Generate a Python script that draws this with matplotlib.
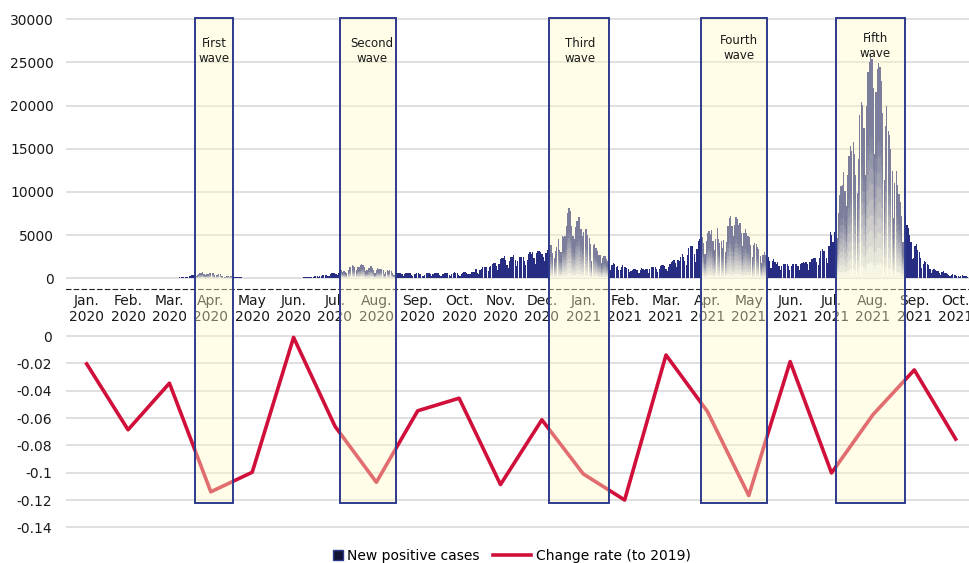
import datetime
import numpy as np
import matplotlib.pyplot as plt
import matplotlib.transforms as mtransforms
from matplotlib.patches import Rectangle
from matplotlib.lines import Line2D

# ---- data ----
months = ['Jan.\n2020', 'Feb.\n2020', 'Mar.\n2020', 'Apr.\n2020', 'May\n2020', 'Jun.\n2020',
          'Jul.\n2020', 'Aug.\n2020', 'Sep.\n2020', 'Oct.\n2020', 'Nov.\n2020', 'Dec.\n2020',
          'Jan.\n2021', 'Feb.\n2021', 'Mar.\n2021', 'Apr.\n2021', 'May\n2021', 'Jun.\n2021',
          'Jul.\n2021', 'Aug.\n2021', 'Sep.\n2021', 'Oct.\n2021']

change_rate = [-0.0204, -0.0686, -0.0345, -0.1140, -0.0997, -0.0010, -0.0660, -0.1070,
               -0.0547, -0.0455, -0.1087, -0.0613, -0.1009, -0.1200, -0.0139, -0.0552,
               -0.1167, -0.0187, -0.1002, -0.0576, -0.0248, -0.0754]

# daily new positive cases, one row per week (Mon..Sun), from 2020-01-13
cases_start = datetime.date(2020, 1, 13)
new_cases = [
    0, 0, 1, 0, 0, 0, 0,
    0, 0, 0, 1, 1, 1, 0,
    1, 2, 3, 2, 3, 4, 1,
    2, 1, 3, 1, 5, 2, 0,
    1, 2, 1, 7, 8, 4, 3,
    5, 8, 9, 12, 10, 12, 8,
    6, 10, 12, 15, 23, 17, 8,
    15, 20, 35, 28, 45, 40, 20,
    25, 40, 50, 50, 45, 55, 35,
    20, 35, 40, 40, 45, 60, 40,
    40, 65, 90, 95, 120, 200, 130,
    110, 180, 240, 230, 350, 380, 360,
    250, 400, 500, 560, 650, 714, 540,
    380, 460, 540, 580, 570, 620, 560,
    350, 380, 430, 440, 450, 310, 240,
    170, 190, 230, 280, 200, 230, 280,
    220, 170, 120, 90, 100, 90, 110,
    40, 80, 55, 60, 70, 50, 30,
    20, 30, 40, 30, 25, 20, 15,
    20, 25, 40, 60, 50, 50, 40,
    30, 45, 35, 45, 50, 45, 50,
    20, 40, 45, 40, 60, 55, 70,
    40, 40, 40, 65, 80, 40, 60,
    35, 50, 80, 90, 100, 105, 110,
    90, 120, 130, 190, 210, 220, 240,
    150, 250, 300, 350, 390, 400, 330,
    250, 300, 450, 580, 660, 590, 510,
    420, 630, 790, 980, 780, 840, 670,
    600, 950, 1250, 1300, 1530, 1400, 1330,
    970, 1250, 1350, 1480, 1600, 1580, 1360,
    790, 960, 1200, 1180, 1370, 1240, 980,
    620, 900, 1150, 1030, 1120, 1050, 900,
    520, 720, 920, 850, 900, 850, 620,
    420, 600, 680, 660, 610, 630, 440,
    270, 500, 560, 650, 560, 590, 410,
    290, 480, 540, 590, 600, 540, 490,
    310, 300, 350, 600, 560, 640, 470,
    290, 500, 600, 620, 600, 560, 410,
    300, 460, 520, 600, 600, 580, 400,
    270, 530, 570, 690, 610, 620, 410,
    310, 490, 600, 680, 720, 610, 530,
    450, 520, 700, 780, 770, 1070, 600,
    500, 920, 1080, 1250, 1330, 1330, 1330,
    800, 1250, 1450, 1650, 1740, 1720, 1440,
    950, 1690, 2200, 2400, 2400, 2590, 2170,
    1500, 1230, 1950, 2500, 2500, 2680, 2060,
    1420, 2050, 2500, 2510, 2450, 2500, 2030,
    1510, 2100, 2800, 3000, 2770, 3040, 2400,
    1660, 2980, 3200, 3200, 2990, 2850, 2490,
    2000, 2950, 3270, 3730, 3800, 3880, 2950,
    2390, 3130, 3600, 4500, 3230, 3050, 4900,
    4800, 4950, 6000, 7570, 8100, 7790, 6090,
    4880, 4540, 5880, 6600, 7130, 7040, 5760,
    4930, 5320, 5650, 5700, 5000, 4700, 3990,
    1990, 3860, 3960, 3540, 3140, 2700, 2670,
    1800, 2320, 2630, 2580, 2280, 2000, 1700,
    1000, 1560, 1710, 1610, 1350, 1370, 1000,
    1000, 1300, 1500, 1300, 1300, 1200, 1100,
    700, 800, 990, 1070, 1060, 1000, 900,
    600, 930, 1140, 1100, 1000, 1090, 1070,
    600, 1050, 1300, 1300, 1250, 1280, 1100,
    750, 1100, 1470, 1500, 1500, 1460, 1100,
    800, 1300, 1600, 1900, 2000, 2080, 1780,
    1280, 2080, 2000, 2500, 2770, 2500, 2000,
    1500, 2650, 3450, 3700, 3690, 3700, 2780,
    1880, 3440, 4300, 4560, 4530, 4800, 4090,
    2800, 4320, 5290, 5500, 5120, 5600, 4360,
    3300, 4500, 5800, 4600, 4100, 4300, 3550,
    4400, 3000, 4170, 6100, 7000, 7240, 6000,
    4900, 6200, 7100, 6900, 6200, 6400, 5200,
    3700, 5200, 5700, 5200, 4900, 4800, 3900,
    2500, 3800, 4100, 4000, 3600, 3400, 2600,
    1800, 2700, 3000, 2700, 2300, 2500, 2000,
    1200, 2000, 2200, 1900, 1700, 1900, 1400,
    930, 1400, 1700, 1700, 1600, 1600, 1400,
    900, 1400, 1700, 1700, 1600, 1600, 1400,
    1000, 1600, 1800, 1900, 1800, 1900, 1600,
    1000, 1900, 2200, 2200, 2300, 2400, 1900,
    1500, 2400, 3200, 3400, 3200, 3100, 2300,
    1800, 3700, 5400, 5000, 4200, 5400, 3700,
    4700, 7600, 9600, 10700, 10800, 12300, 10100,
    8400, 12000, 14200, 15300, 14700, 15800, 14400,
    12000, 9900, 13800, 18900, 20400, 20100, 17400,
    12000, 19900, 23900, 25100, 26000, 25400, 22000,
    14400, 21600, 24200, 24900, 24500, 22800, 19100,
    11400, 17600, 20000, 17000, 16600, 15000, 12400,
    7000, 11000, 12400, 10800, 9800, 8800, 7200,
    4200, 6000, 6700, 6200, 5800, 5000, 4200,
    2200, 2400, 3700, 4000, 3300, 3000, 2300,
    1150, 1600, 2000, 1900, 1600, 1500, 1100,
    600, 1000, 1100, 1000, 850, 800, 600,
    400, 700, 800, 600, 600, 500, 430,
    230, 400, 450, 380, 320, 300, 250,
    150, 300, 350, 290, 250, 250, 180,
]

# daily bars sit on their own category axis starting 2020-01-01
axis_start = datetime.date(2020, 1, 1)
axis_days = 676

wave_names = ['First\nwave', 'Second\nwave', 'Third\nwave', 'Fourth\nwave', 'Fifth\nwave']
wave_bounds = [(2.61, 3.54), (6.12, 7.48), (11.18, 12.63), (14.85, 16.45), (18.11, 19.78)]
wave_label_xy = [(214, 51), (372, 51), (580, 51), (739, 48), (875, 46)]  # figure pixels

navy = '#262d82'
red = '#d0103a'
grid_col = '#dadada'
box_edge = '#2e3a8c'

plt.rcParams['font.family'] = 'DejaVu Sans'

fig = plt.figure(figsize=(9.69, 5.63), dpi=100)
ax1 = fig.add_axes([0.0681, 0.4862, 0.9395, 0.4842])
ax2 = fig.add_axes([0.0681, 0.0512, 0.9395, 0.3568])

# ---- top: daily cases ----
cases = np.array(new_cases, dtype=float)
day_idx = np.array([(cases_start + datetime.timedelta(days=i) - axis_start).days
                    for i in range(len(cases))])
bar_x = -0.5 + (day_idx + 0.5) * len(months) / axis_days
bw = 0.9 * len(months) / axis_days

in_wave = np.zeros(len(bar_x), dtype=bool)
for lo, hi in wave_bounds:
    in_wave |= (bar_x >= lo) & (bar_x <= hi)

ax1.bar(bar_x[~in_wave], cases[~in_wave], width=bw, color=navy, linewidth=0, zorder=2)

# bars inside the waves fade to white at the bottom
n_seg = 14
navy_rgb = np.array([38, 45, 130]) / 255
for k in range(n_seg):
    t = min(1.0, (k + 0.5) / n_seg / 0.65)
    col = (1 - t) * np.ones(3) + t * navy_rgb
    h = cases[in_wave] / n_seg
    ax1.bar(bar_x[in_wave], h, bottom=h * k, width=bw, color=col, linewidth=0, zorder=2)

ax1.set_xlim(-0.5, len(months) - 0.5)
ax1.set_ylim(-1275, 30300)
ax1.set_yticks(range(0, 30001, 5000))
ax1.set_xticks(range(len(months)))
ax1.set_xticklabels(months, linespacing=1.15)
ax1.tick_params(axis='x', length=0, pad=3.5, labelsize=10, labelcolor='#1a1a1a')
ax1.tick_params(axis='y', length=0, pad=8.6, labelsize=10, labelcolor='#1a1a1a')
ax1.grid(axis='y', color=grid_col, linewidth=1.2)
ax1.set_axisbelow(True)
for s in ['top', 'left', 'right']:
    ax1.spines[s].set_visible(False)
ax1.spines['bottom'].set_linestyle((0, (4, 3)))
ax1.spines['bottom'].set_color('#222222')
ax1.spines['bottom'].set_linewidth(0.8)

# ---- bottom: change rate ----
ax2.plot(range(len(months)), change_rate, color=red, linewidth=2.6, zorder=3)
ax2.set_xlim(-0.5, len(months) - 0.5)
ax2.set_ylim(-0.145, 0.002)
ax2.set_yticks([0, -0.02, -0.04, -0.06, -0.08, -0.1, -0.12, -0.14])
ax2.set_yticklabels(['0', '-0.02', '-0.04', '-0.06', '-0.08', '-0.1', '-0.12', '-0.14'])
ax2.set_xticks([])
ax2.tick_params(axis='y', length=0, pad=10, labelsize=10, labelcolor='#1a1a1a')
ax2.grid(axis='y', color=grid_col, linewidth=1.2)
ax2.set_axisbelow(True)
for s in ax2.spines.values():
    s.set_visible(False)

# ---- wave boxes across both panels ----
trans = mtransforms.blended_transform_factory(ax1.transData, fig.transFigure)
y0, y1 = (563 - 503) / 563, (563 - 18) / 563
for (lo, hi), name, (px, py) in zip(wave_bounds, wave_names, wave_label_xy):
    rect = Rectangle((lo, y0), hi - lo, y1 - y0, transform=trans,
                     facecolor=(1.0, 0.98, 0.77, 0.4), edgecolor=box_edge,
                     linewidth=1.4, zorder=5, clip_on=False)
    fig.add_artist(rect)
    fig.text(px / 969, 1 - py / 563, name, ha='center', va='center', fontsize=8.5,
             color='#1a1a1a', linespacing=1.2, zorder=6)

# ---- legend ----
h1 = Line2D([], [], marker='s', linestyle='none', markersize=7,
            markerfacecolor='#111133', markeredgecolor=box_edge)
h2 = Line2D([], [], color=red, linewidth=2.6)
fig.legend([h1], ['New positive cases'], loc='center left',
           bbox_to_anchor=(332 / 969, 1 - 556 / 563), frameon=False, fontsize=10,
           handlelength=0.8, handletextpad=0.3, borderpad=0, borderaxespad=0)
fig.legend([h2], ['Change rate (to 2019)'], loc='center left',
           bbox_to_anchor=(493 / 969, 1 - 556 / 563), frameon=False, fontsize=10,
           handlelength=2.7, handletextpad=0.4, borderpad=0, borderaxespad=0)

fig.savefig('out.png', dpi=100)
